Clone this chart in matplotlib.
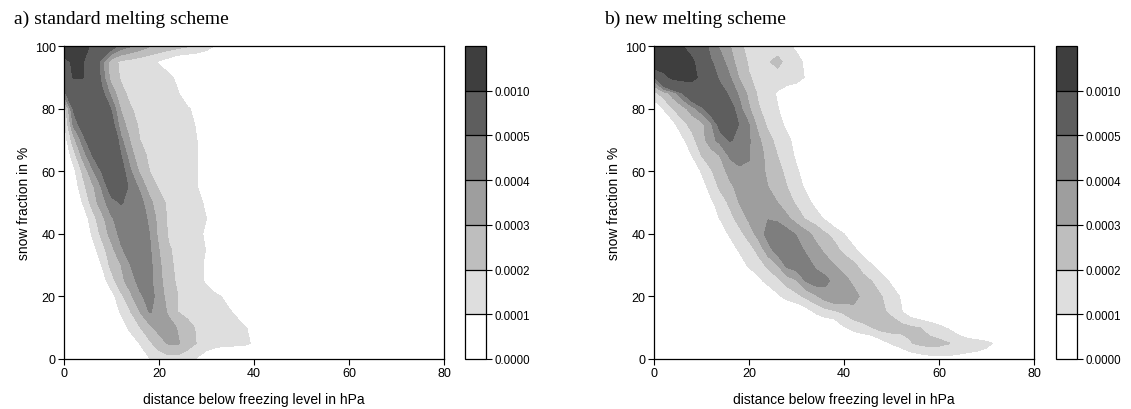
import numpy as np
import matplotlib
matplotlib.use("Agg")
import matplotlib.pyplot as plt

plt.rcParams['font.family'] = ['Liberation Sans', 'DejaVu Sans']

# grid: distance below freezing level (hPa) and snow fraction (%)
dist = np.arange(0, 81, 2)
snow = np.arange(0, 101, 5)

# density, in units of 1e-4, rows are snow = 0, 5, ..., 100
# columns start at distance 0 in steps of 2 hPa (trailing zeros left out)
dens_a = [
    [0]*8 + [0.4, 0.95, 1.4, 1.6, 1.6, 1.3, 0.9, 0.3],
    [0]*7 + [0.3, 1.05, 1.8, 2.5, 3.1, 3.1, 2.5, 1.95, 1.6, 1.35, 1.25, 1.2, 1.15, 0.9],
    [0]*6 + [0.4, 1.3, 1.95, 2.7, 3.4, 3.5, 2.9, 2.3, 1.9, 1.75, 1.6, 1.5, 1.35, 1.1, 0.7],
    [0]*5 + [0.3, 1.1, 1.95, 3.0, 4.05, 3.8, 2.8, 2.0, 1.75, 1.6, 1.5, 1.35, 1.2, 0.9],
    [0]*5 + [0.6, 1.75, 2.8, 3.8, 4.4, 3.6, 2.5, 2.0, 1.75, 1.6, 1.4, 1.2, 0.85],
    [0]*4 + [0.5, 1.6, 2.7, 3.5, 4.4, 4.3, 3.3, 2.4, 1.8, 1.6, 1.3, 0.85],
    [0]*4 + [1.05, 2.3, 3.0, 4.0, 4.5, 4.3, 3.2, 2.25, 1.75, 1.6, 1.35, 0.8],
    [0]*3 + [0.6, 1.6, 2.7, 3.85, 4.5, 4.6, 4.15, 3.0, 2.1, 1.75, 1.6, 1.4, 0.95],
    [0]*3 + [1.15, 2.3, 3.4, 4.3, 4.6, 4.6, 4.0, 2.7, 1.9, 1.7, 1.55, 1.3, 0.8],
    [0]*2 + [0.3, 1.6, 2.7, 3.9, 4.4, 4.6, 4.5, 3.8, 2.6, 1.85, 1.7, 1.55, 1.35, 1.0],
    [0]*2 + [1.1, 2.4, 3.6, 4.6, 5.1, 4.6, 4.4, 3.3, 2.3, 1.85, 1.7, 1.5, 1.15, 0.9],
    [0]*1 + [0.3, 1.7, 2.8, 4.1, 5.8, 6.0, 4.6, 3.8, 2.5, 1.9, 1.75, 1.65, 1.5, 1.05],
    [0, 0.7, 2.2, 3.8, 5.1, 6.5, 5.6, 4.1, 2.8, 2.0, 1.8, 1.75, 1.65, 1.5, 1.05],
    [0, 1.5, 3.4, 5.0, 6.8, 7.0, 5.0, 3.4, 2.3, 1.85, 1.75, 1.7, 1.6, 1.45, 1.05],
    [0.3, 2.6, 4.5, 6.2, 7.3, 6.8, 4.2, 2.9, 2.0, 1.75, 1.7, 1.65, 1.55, 1.4, 1.0],
    [0.6, 4.2, 5.8, 7.5, 7.5, 5.6, 3.4, 2.5, 1.8, 1.7, 1.65, 1.6, 1.45, 1.3, 0.9],
    [1.2, 5.2, 7.5, 8.0, 7.0, 4.8, 2.9, 2.05, 1.8, 1.7, 1.6, 1.5, 1.35, 1.15, 0.6],
    [4.6, 7.0, 8.0, 7.5, 5.3, 3.6, 2.2, 1.8, 1.65, 1.55, 1.45, 1.3, 1.05],
    [7.5, 10.2, 10.1, 7.0, 4.5, 2.5, 1.9, 1.75, 1.6, 1.5, 1.4, 1.2, 0.8],
    [9.0, 10.5, 10.2, 7.0, 4.3, 2.4, 1.8, 1.6, 1.4, 1.2, 0.9, 0.5],
    [13.0, 12.0, 11.0, 9.5, 7.5, 5.8, 4.6, 4.1, 3.6, 3.1, 2.8, 2.6, 2.4, 2.1, 1.8, 1.4, 0.9],
]

dens_b = [
    [0]*27 + [0.2, 0.4, 0.55, 0.65, 0.7, 0.7, 0.7, 0.7, 0.65, 0.5],
    [0]*24 + [0.6, 1.05, 1.4, 1.95, 2.2, 2.4, 2.3, 2.05, 1.7, 1.45, 1.3, 1.15, 0.9, 0.3],
    [0]*20 + [0.9, 1.3, 1.6, 2.0, 2.4, 2.5, 2.35, 2.15, 2.0, 1.55, 1.2, 0.9, 0.4],
    [0]*16 + [0.5, 1.1, 1.5, 1.8, 2.15, 2.7, 2.9, 2.6, 2.15, 1.8, 1.1, 0.4],
    [0]*13 + [0.8, 1.3, 1.7, 2.2, 2.8, 3.5, 3.95, 3.7, 3.3, 2.8, 2.4, 2.0, 1.5, 0.9],
    [0]*11 + [0.7, 1.4, 1.7, 2.4, 2.9, 4.1, 4.6, 4.3, 3.7, 3.3, 2.8, 2.3, 1.95, 1.4, 0.8],
    [0]*9 + [0.3, 1.2, 1.6, 2.2, 3.0, 4.3, 4.6, 4.5, 3.8, 3.4, 3.0, 2.6, 2.2, 1.6, 1.0, 0.4],
    [0]*8 + [0.3, 1.2, 1.6, 2.3, 3.6, 4.5, 4.7, 4.5, 3.8, 3.3, 2.8, 2.3, 1.7, 1.2, 0.5],
    [0]*7 + [0.3, 1.2, 1.7, 2.4, 3.4, 4.4, 4.6, 4.4, 3.9, 3.3, 2.7, 2.1, 1.7, 1.0, 0.3],
    [0]*6 + [0.3, 1.1, 1.7, 2.4, 3.2, 3.7, 3.95, 3.8, 3.2, 2.5, 1.85, 1.45, 0.85],
    [0]*6 + [0.8, 1.5, 2.2, 3.05, 3.5, 3.7, 3.5, 3.0, 2.4, 1.85, 1.35, 0.7],
    [0]*5 + [0.5, 1.4, 2.2, 2.8, 3.3, 3.6, 3.4, 3.0, 2.5, 2.0, 1.45, 0.8],
    [0]*5 + [1.1, 1.9, 2.6, 3.3, 3.8, 3.9, 3.4, 2.8, 2.3, 1.75, 1.15, 0.5],
    [0]*4 + [1.0, 2.0, 2.5, 3.05, 4.2, 4.4, 4.05, 3.5, 2.6, 2.0, 1.5, 0.8],
    [0]*3 + [0.8, 1.7, 2.6, 3.6, 4.4, 5.1, 4.7, 4.1, 3.2, 2.3, 1.7, 1.2, 0.7],
    [0]*2 + [0.7, 1.7, 2.3, 2.7, 3.8, 5.6, 6.0, 4.9, 4.0, 2.6, 1.8, 1.3, 0.8],
    [0.2, 1.05, 2.0, 2.6, 3.5, 4.6, 6.0, 6.5, 5.6, 4.3, 3.1, 2.1, 1.5, 1.05, 0.5],
    [1.7, 2.5, 3.5, 5.0, 6.8, 7.5, 7.2, 5.8, 4.6, 3.8, 2.7, 1.8, 1.3, 0.9, 0.5, 0.3],
    [4.8, 8.5, 11.0, 11.5, 11.2, 9.0, 6.2, 4.5, 4.05, 2.9, 2.05, 1.8, 1.65, 1.6, 1.55, 1.4, 0.9],
    [14.0, 13.5, 13.0, 12.0, 10.8, 7.5, 5.1, 4.4, 3.5, 2.4, 1.9, 1.8, 1.9, 2.3, 1.7, 1.3, 0.8],
    [14.0, 13.5, 12.0, 10.1, 8.0, 6.0, 4.5, 3.8, 3.05, 2.1, 1.85, 1.75, 1.6, 1.45, 1.2, 0.8],
]

levels = [0, 0.0001, 0.0002, 0.0003, 0.0004, 0.0005, 0.0010, 0.0015]
tick_labels = ["0.0000", "0.0001", "0.0002", "0.0003", "0.0004", "0.0005", "0.0010"]
greys = ["#ffffff", "#dedede", "#bebebe", "#9e9e9e", "#7e7e7e", "#5e5e5e", "#3e3e3e"]
titles = ["a) standard melting scheme", "b) new melting scheme"]


def to_grid(rows):
    full = [r + [0] * (len(dist) - len(r)) for r in rows]
    return np.array(full) * 1e-4


fig = plt.figure(figsize=(11.31, 4.10), dpi=100)
W, H = 1131.0, 410.0

panels = [(64, 465, 14), (654, 1056, 604)]
for i, dens in enumerate([dens_a, dens_b]):
    left, cb_left, tx = panels[i]
    ax = fig.add_axes([left / W, 50 / H, 380 / W, 313 / H])
    cs = ax.contourf(dist, snow, to_grid(dens), levels=levels, colors=greys)
    ax.set_xlim(0, 80)
    ax.set_ylim(0, 100)
    ax.set_xticks([0, 20, 40, 60, 80])
    ax.set_yticks([0, 20, 40, 60, 80, 100])
    ax.tick_params(direction='out', length=4, width=0.8, labelsize=9, pad=2)
    for s in ax.spines.values():
        s.set_linewidth(0.9)
    ax.set_xlabel("distance below freezing level in hPa", fontsize=10, labelpad=9)
    ax.set_ylabel("snow fraction in %", fontsize=10, labelpad=3)

    cax = fig.add_axes([cb_left / W, 50 / H, 21 / W, 313 / H])
    cb = fig.colorbar(cs, cax=cax, ticks=levels[:-1], drawedges=True)
    cb.ax.set_yticklabels(tick_labels)
    cb.ax.tick_params(direction='out', length=4, width=0.8, labelsize=8.3, pad=2)
    cb.outline.set_linewidth(0.9)
    cb.dividers.set_linewidth(0.9)

    fig.text(tx / W, 1 - 19 / H, titles[i], family='Liberation Serif',
             fontsize=14, va='center', ha='left')

fig.savefig("out.png", dpi=100)
